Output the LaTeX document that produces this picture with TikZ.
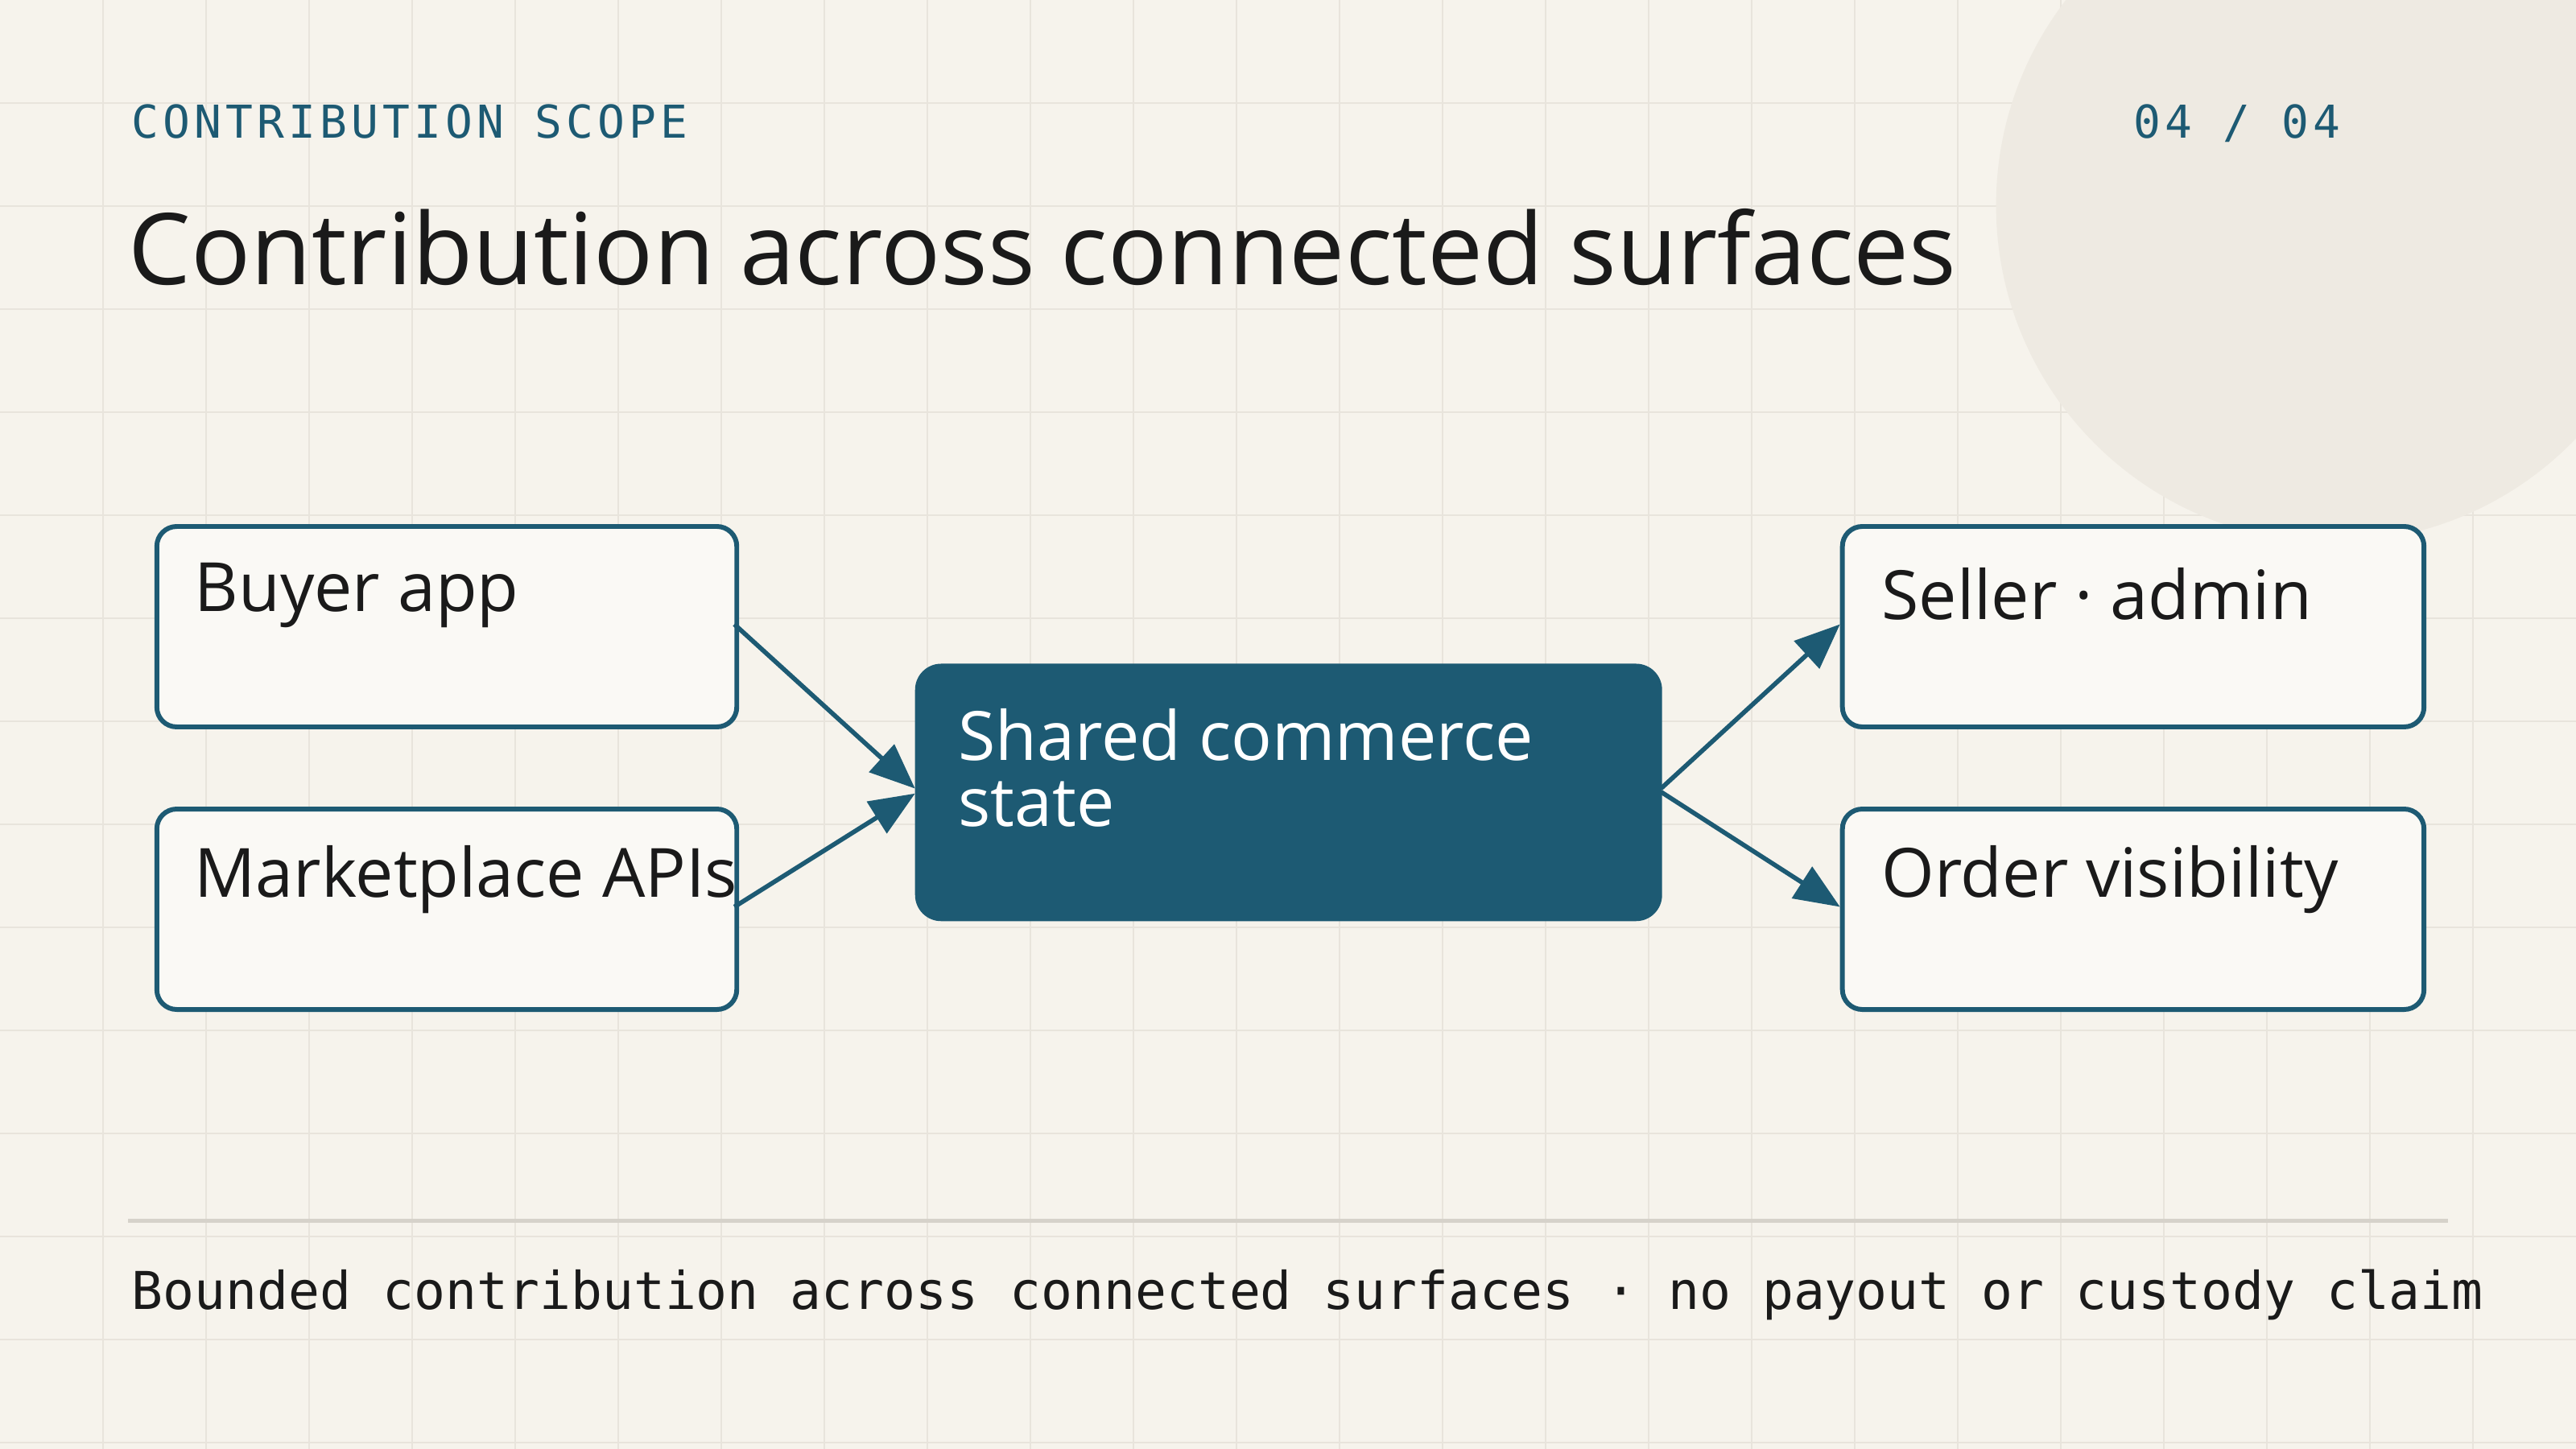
\documentclass[tikz,border=0pt]{standalone}
\usepackage{fontspec}
\setmainfont{Open Sans}
\newfontfamily\monof{DejaVu Sans Mono}
\newfontfamily\monosp[LetterSpace=9]{DejaVu Sans Mono}
\usetikzlibrary{arrows.meta}
\definecolor{bg}{HTML}{F6F3EC}
\definecolor{gridc}{HTML}{E8E4DC}
\definecolor{circ}{HTML}{EEEAE2}
\definecolor{teal}{HTML}{1D5A73}
\definecolor{boxf}{HTML}{FAF9F5}
\definecolor{ink}{HTML}{1A1A1A}
\definecolor{rule}{HTML}{D6D2CA}
\tikzset{
 box/.style={draw=teal, line width=1.7pt, fill=boxf, rounded corners=7pt},
 lbl/.style={anchor=base west, inner sep=0pt, font=\fontsize{24}{28}\selectfont, text=ink},
 arr/.style={draw=teal, line width=1.6pt, -{Triangle[length=16pt,width=13pt]}},
}
\begin{document}
\begin{tikzpicture}[x=0.020408cm,y=-0.020408cm]
\fill[bg] (0,0) rectangle (1568,882);
\useasboundingbox (0,0) rectangle (1568,882);
\foreach \i in {1,...,24} \draw[gridc, line width=0.5pt] (\i*62.72,0) -- (\i*62.72,882);
\foreach \i in {1,...,14} \draw[gridc, line width=0.5pt] (0,\i*62.72) -- (1568,\i*62.72);
\fill[circ] (1420,125) circle (205);
\node[anchor=base west, inner sep=0pt, text=teal, font=\monosp\fontsize{16}{18}\selectfont] (kick) at (80,84) {CONTRIBUTION SCOPE};
\node[anchor=base east, inner sep=0pt, text=teal, font=\monosp\fontsize{16}{18}\selectfont] (pg) at (1425,84) {04 / 04};
\node[anchor=base west, inner sep=0pt, text=ink, font=\fontsize{35}{40}\selectfont] (title) at (78,173) {Contribution across connected surfaces};
\node[box, minimum width=353*0.020408cm, minimum height=122*0.020408cm, anchor=north west] (buy) at (94,319) {};
\node[box, minimum width=353*0.020408cm, minimum height=122*0.020408cm, anchor=north west] (mkt) at (94,491) {};
\node[box, minimum width=354*0.020408cm, minimum height=122*0.020408cm, anchor=north west] (sel) at (1120,319) {};
\node[box, minimum width=354*0.020408cm, minimum height=122*0.020408cm, anchor=north west] (ord) at (1120,491) {};
\node[draw=teal, fill=teal, rounded corners=9pt, minimum width=454*0.020408cm, minimum height=156*0.020408cm, anchor=north west] (mid) at (557,404) {};
\node[lbl] (t1) at (118,372) {Buyer app};
\node[lbl] (t2) at (118,546) {Marketplace APIs};
\node[lbl] (t3) at (1145,377) {Seller · admin};
\node[lbl] (t4) at (1145,546) {Order visibility};
\node[lbl, text=white] (t5) at (583,463) {Shared commerce};
\node[lbl, text=white] (t6) at (583,503) {state};
\coordinate (b1) at (447,380); \coordinate (m1) at (557,480);
\coordinate (b2) at (447,552); \coordinate (m2) at (557,483);
\coordinate (c1) at (1011,480); \coordinate (s1) at (1120,380);
\coordinate (c2) at (1011,482); \coordinate (o1) at (1120,552);
\draw[arr] (b1) -- (m1);
\draw[arr] (b2) -- (m2);
\draw[arr] (c1) -- (s1);
\draw[arr] (c2) -- (o1);
\draw[rule, line width=1.3pt] (78,743) -- (1490,743);
\node[anchor=base west, inner sep=0pt, text=ink, font=\monof\fontsize{18.4}{20}\selectfont] (foot) at (80,797) {Bounded contribution across connected surfaces · no payout or custody claim};
\end{tikzpicture}
\end{document}
